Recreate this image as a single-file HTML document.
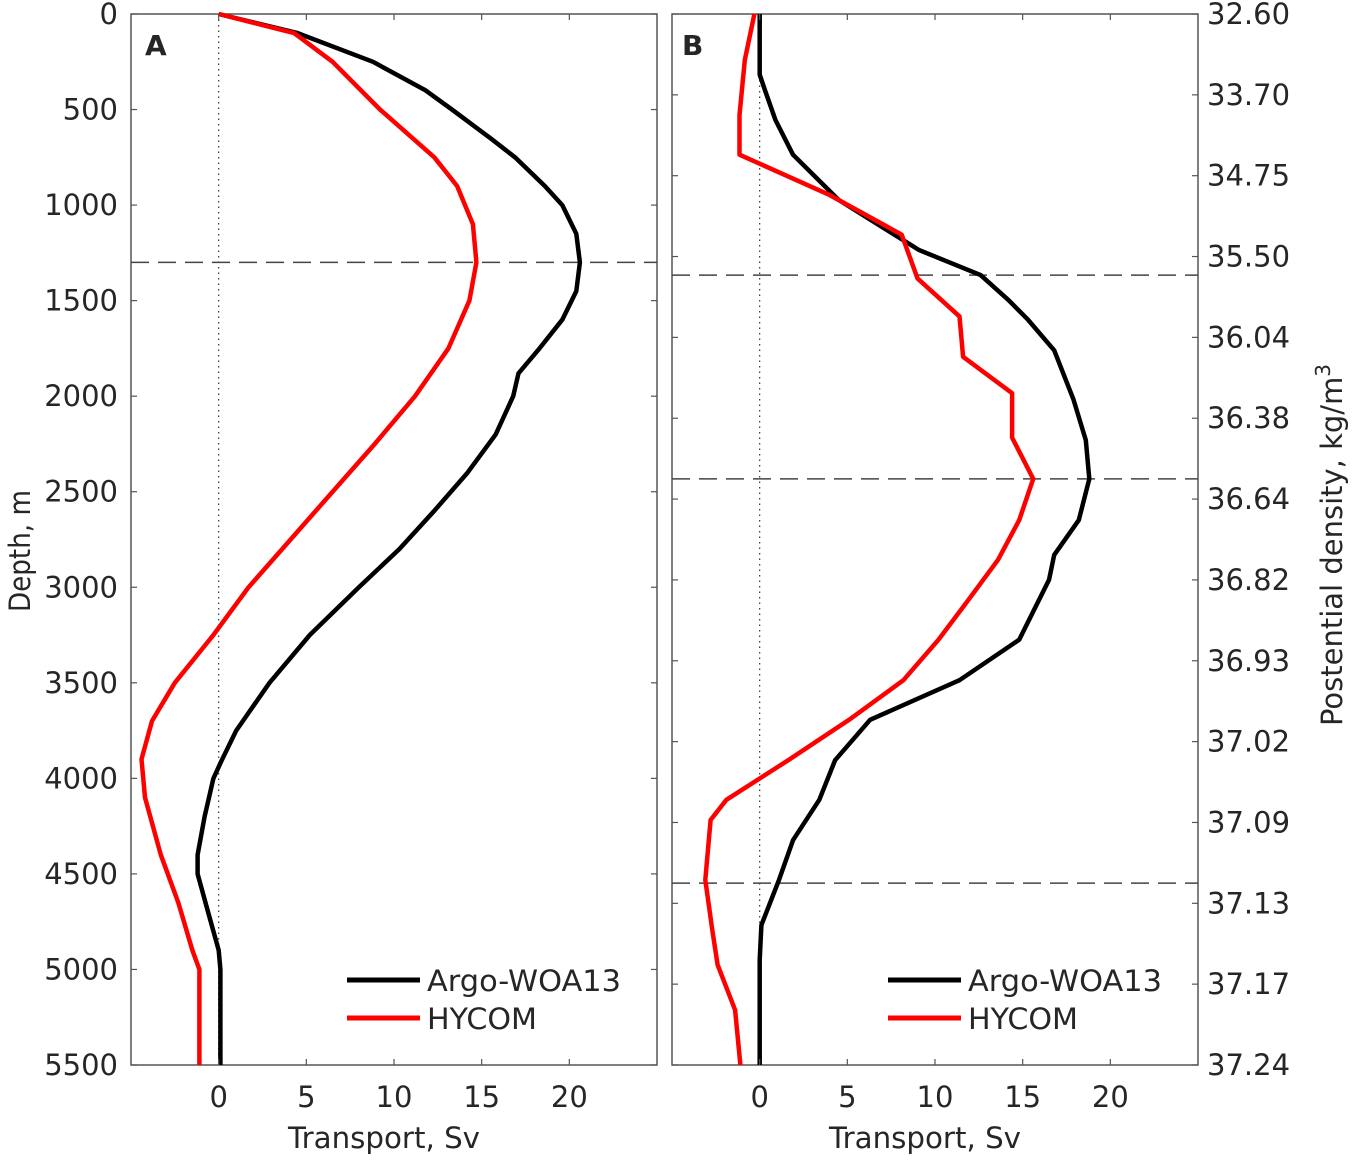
<!DOCTYPE html>
<html><head><meta charset="utf-8"><style>
html,body{margin:0;padding:0;background:#fff;}
svg text{font-family:"DejaVu Sans","Liberation Sans",sans-serif;fill:#262626;}
</style></head><body>
<svg id="chart" width="1355" height="1158" xmlns="http://www.w3.org/2000/svg"></svg>
<script>
// Panel A data (depth in m, transport in Sv)
const aArgoDepth=[0,100,250,400,500,650,750,900,1000,1150,1300,1450,1600,1750,1880,2000,2200,2400,2600,2800,3000,3250,3500,3750,3900,4000,4200,4400,4500,4700,4900,5000,5500];
const aArgoSv=[0,4.5,8.8,11.8,13.3,15.5,16.9,18.6,19.6,20.4,20.6,20.4,19.6,18.3,17.1,16.8,15.8,14.2,12.3,10.3,8.0,5.2,2.9,1.0,0.2,-0.3,-0.8,-1.2,-1.2,-0.6,0,0.1,0.1];
const aHycomDepth=[0,100,250,500,750,900,1100,1300,1500,1750,2000,2250,2500,2750,3000,3250,3500,3700,3900,4100,4400,4650,4900,5000,5500];
const aHycomSv=[0,4.3,6.5,9.2,12.3,13.6,14.5,14.7,14.3,13.1,11.2,8.9,6.5,4.1,1.7,-0.3,-2.5,-3.8,-4.4,-4.2,-3.3,-2.3,-1.5,-1.1,-1.1];
const aDashDepth=[1300];
// Panel B data (density layer index, transport in Sv)
const bArgoLayer=[0,0.75,0.94,1.31,1.74,2.30,2.92,3.23,3.54,3.78,4.16,4.77,5.27,5.75,6.26,6.69,7.0,7.74,8.24,8.73,9.23,9.72,10.22,10.71,11.27,11.7,13];
const bArgoSv=[0,0,0.3,0.9,1.9,4.5,9.1,12.6,14.2,15.3,16.8,17.9,18.6,18.8,18.2,16.8,16.5,14.8,11.4,6.3,4.3,3.4,1.9,1.1,0.1,0,0];
const bHycomLayer=[0,0.57,1.25,1.74,2.24,2.73,3.27,3.74,4.24,4.69,5.24,5.75,6.26,6.75,7.25,7.74,8.24,8.73,9.22,9.72,9.97,10.71,11.33,11.76,12.32,13];
const bHycomSv=[-0.3,-0.85,-1.15,-1.15,4.0,8.1,9.0,11.4,11.6,14.4,14.4,15.6,14.8,13.6,11.9,10.2,8.2,5.1,1.7,-1.9,-2.8,-3.1,-2.7,-2.4,-1.4,-1.1];
const bDashLayer=[3.23,5.75,10.75];
const densityLabels=["32.60","33.70","34.75","35.50","36.04","36.38","36.64","36.82","36.93","37.02","37.09","37.13","37.17","37.24"];
const depthTicks=[0,500,1000,1500,2000,2500,3000,3500,4000,4500,5000,5500];
const svTicks=[0,5,10,15,20];

const NS="http://www.w3.org/2000/svg";
const svg=document.getElementById('chart');
function mk(tag,attrs,parent){const e=document.createElementNS(NS,tag);for(const k in attrs)e.setAttribute(k,attrs[k]);(parent||svg).appendChild(e);return e;}
const top_=14,bot=1065;
const pA={l:131,r:657},pB={l:672,r:1198};
function xs(p){return v=>p.l+(v+5)/30*(p.r-p.l);}
const xA=xs(pA),xB=xs(pB);
const yDepth=d=>top_+d/5500*(bot-top_);
const yLayer=i=>top_+i/13*(bot-top_);
const TF=29;

function frame(p,name){
  const r=mk('rect',{x:p.l,y:top_,width:p.r-p.l,height:bot-top_,fill:'none',stroke:'#555','stroke-width':1.5});
  
  
}
function xaxis(p,x,name){
  const g=mk('g',{});
  
  
  svTicks.forEach(v=>{
    mk('line',{x1:x(v),x2:x(v),y1:bot,y2:bot-6,stroke:'#555','stroke-width':1.2},g);
    mk('line',{x1:x(v),x2:x(v),y1:top_,y2:top_+6,stroke:'#555','stroke-width':1.2},g);
    const t=mk('text',{x:x(v),y:1107,'text-anchor':'middle','font-size':TF},g);t.textContent=v;
  });
  const t=mk('text',{x:(p.l+p.r)/2-10,y:1148,'text-anchor':'middle','font-size':29,textLength:192,lengthAdjust:'spacingAndGlyphs'},g);t.textContent='Transport, Sv';
  
  
}
function line(x,y,xv,yv,color,name,w){
  const pts=xv.map((v,i)=>x(v).toFixed(1)+','+y(yv[i]).toFixed(1)).join(' ');
  const e=mk('polyline',{points:pts,fill:'none',stroke:color,'stroke-width':w||4.5,'stroke-linejoin':'round'});
  
  
}
function legend(p,name){
  const g=mk('g',{});
  
  
  const x0=p.l+216;
  mk('line',{x1:x0,x2:x0+73,y1:980,y2:980,stroke:'#000','stroke-width':5},g);
  let t=mk('text',{x:x0+80,y:991,'font-size':29,textLength:194,lengthAdjust:'spacingAndGlyphs'},g);t.textContent='Argo-WOA13';
  mk('line',{x1:x0,x2:x0+73,y1:1018,y2:1018,stroke:'#f00','stroke-width':5},g);
  t=mk('text',{x:x0+80,y:1029,'font-size':29,textLength:110,lengthAdjust:'spacingAndGlyphs'},g);t.textContent='HYCOM';
}

// Panel A
frame(pA,'panel-a-frame');
const zA=mk('line',{x1:xA(0),x2:xA(0),y1:top_,y2:bot,stroke:'#333','stroke-width':1.2,'stroke-dasharray':'1.5 4'});


depthTicks.forEach(d=>{
  mk('line',{x1:pA.l,x2:pA.l+6,y1:yDepth(d),y2:yDepth(d),stroke:'#555','stroke-width':1.2});
  mk('line',{x1:pA.r,x2:pA.r-6,y1:yDepth(d),y2:yDepth(d),stroke:'#555','stroke-width':1.2});
  const t=mk('text',{x:pA.l-13,y:yDepth(d)+10,'text-anchor':'end','font-size':TF});t.textContent=d;
});
aDashDepth.forEach(d=>{
  const e=mk('line',{x1:pA.l,x2:pA.r,y1:yDepth(d),y2:yDepth(d),stroke:'#444','stroke-width':1.5,'stroke-dasharray':'18 9'});
  
  
});
line(xA,yDepth,aArgoSv,aArgoDepth,'#000','argo-line-a');
line(xA,yDepth,aHycomSv,aHycomDepth,'#f00','hycom-line-a');
xaxis(pA,xA,'x-axis-a');
let ta=mk('text',{x:145,y:55,'font-size':28,'font-weight':'bold'});ta.textContent='A';


legend(pA,'legend-a');
let yt=mk('text',{x:0,y:0,'font-size':29,'text-anchor':'middle',textLength:122,lengthAdjust:'spacingAndGlyphs',transform:'translate(30,551) rotate(-90)'});yt.textContent='Depth, m';



// Panel B
frame(pB,'panel-b-frame');
const zB=mk('line',{x1:xB(0),x2:xB(0),y1:top_,y2:bot,stroke:'#333','stroke-width':1.2,'stroke-dasharray':'1.5 4'});


densityLabels.forEach((lab,i)=>{
  mk('line',{x1:pB.l,x2:pB.l+6,y1:yLayer(i),y2:yLayer(i),stroke:'#555','stroke-width':1.2});
  mk('line',{x1:pB.r,x2:pB.r-6,y1:yLayer(i),y2:yLayer(i),stroke:'#555','stroke-width':1.2});
  const t=mk('text',{x:pB.r+9,y:yLayer(i)+10,'font-size':TF});t.textContent=lab;
});
bDashLayer.forEach(l=>{
  const e=mk('line',{x1:pB.l,x2:pB.r,y1:yLayer(l),y2:yLayer(l),stroke:'#444','stroke-width':1.5,'stroke-dasharray':'18 9'});
  
  
});
line(xB,yLayer,bArgoSv,bArgoLayer,'#000','argo-line-b');
line(xB,yLayer,bHycomSv,bHycomLayer,'#f00','hycom-line-b');
xaxis(pB,xB,'x-axis-b');
let tb=mk('text',{x:682,y:55,'font-size':28,'font-weight':'bold'});tb.textContent='B';


legend(pB,'legend-b');
let rt=mk('text',{x:0,y:0,'font-size':29,'text-anchor':'middle',transform:'translate(1342,545) rotate(-90)'});
rt.innerHTML='Postential density, kg/m<tspan dy="-12" font-size="20">3</tspan>';


</script>
</body></html>
